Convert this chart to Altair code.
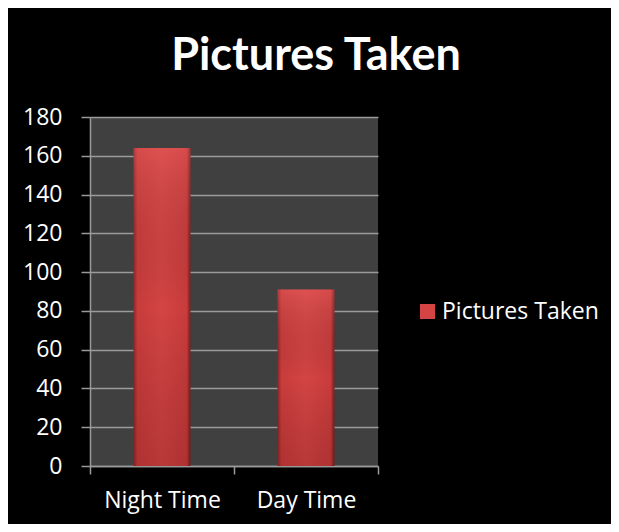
import altair as alt
import pandas as pd

categories = ["Night Time", "Day Time"]
values = [164, 91]
series = ["Pictures Taken", "Pictures Taken"]

df = pd.DataFrame({"cat": categories, "val": values, "series": series})

FONT = "Open Sans"
TFONT = "Lato"

side_grad = {
    "gradient": "linear", "x1": 0, "y1": 0, "x2": 1, "y2": 0,
    "stops": [
        {"offset": 0.0, "color": "#8e2626"},
        {"offset": 0.07, "color": "#c93c3c"},
        {"offset": 0.5, "color": "#d44444"},
        {"offset": 0.93, "color": "#c93c3c"},
        {"offset": 1.0, "color": "#7a1f1f"},
    ],
}
shade_grad = {
    "gradient": "linear", "x1": 0, "y1": 0, "x2": 0, "y2": 1,
    "stops": [
        {"offset": 0.0, "color": "rgba(255,120,120,0.25)"},
        {"offset": 0.5, "color": "rgba(0,0,0,0.0)"},
        {"offset": 1.0, "color": "rgba(60,0,0,0.18)"},
    ],
}

x_enc = alt.X(
    "cat:N", sort=categories, title=None,
    scale=alt.Scale(paddingInner=0, paddingOuter=0),
    axis=alt.Axis(
        labelAngle=0, labelFontSize=23, labelColor="white", labelFont=FONT,
        labelPadding=15, tickBand="extent", tickSize=8, tickColor="#9a9a9a",
        tickWidth=1.5, domainColor="#9a9a9a", domainWidth=1.5, grid=False,
        labelOverlap=False,
    ),
)
y_enc = alt.Y(
    "val:Q", title=None,
    scale=alt.Scale(domain=[0, 180], nice=False),
    axis=alt.Axis(
        values=list(range(0, 181, 20)), labelFontSize=23, labelColor="white",
        labelFont=FONT, labelPadding=19, tickSize=9, tickColor="#9a9a9a",
        tickWidth=1.5, domainColor="#9a9a9a", domainWidth=1.5,
        gridColor="#9a9a9a", gridWidth=1.5, labelOverlap=False,
    ),
)

bars = alt.Chart(df).mark_bar(size=57, fill=side_grad).encode(
    x=x_enc, y=y_enc,
    color=alt.Color(
        "series:N", title=None,
        scale=alt.Scale(range=["#d44444"]),
        legend=alt.Legend(
            orient="none", legendX=326, legendY=183, symbolType="square",
            symbolSize=225, symbolStrokeWidth=0, labelFontSize=23,
            labelColor="white", labelFont=FONT, labelOffset=3,
        ),
    ),
)
shade = alt.Chart(df).mark_bar(size=57, fill=shade_grad).encode(
    x=x_enc, y=y_enc
)

chart = (
    alt.layer(bars, shade)
    .properties(
        width=288, height=349,
        autosize=alt.AutoSizeParams(type="none"),
        padding={"left": 82, "top": 109, "right": 233, "bottom": 58},
        background="black",
        title=alt.TitleParams(
            "Pictures Taken", fontSize=45, font=TFONT, fontWeight="bold",
            color="white", anchor="middle", dx=82, offset=27,
        ),
    )
    .configure_view(fill="#404040", stroke=None)
)

chart.save("out.html", embed_options={"renderer": "svg", "actions": False})
